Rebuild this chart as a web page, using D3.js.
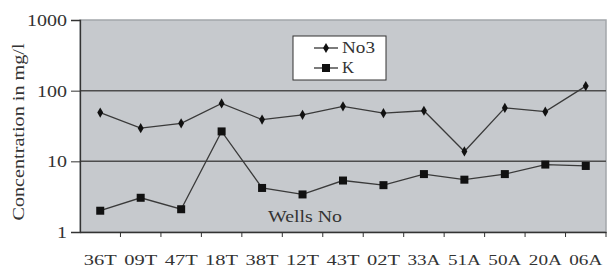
<html>
<head></head>
<body style="margin:0;background:white">
<svg id="svg" width="607" height="268"></svg>
<script src="https://cdn.jsdelivr.net/npm/d3@7"></script>
<script>

var wells = ["36T","09T","47T","18T","38T","12T","43T","02T","33A","51A","50A","20A","06A"];
var no3 = [49, 29.5, 34.5, 66, 39, 45.5, 60, 48, 52, 13.8, 57, 50.5, 116];
var kval = [2.0, 3.05, 2.1, 26.5, 4.2, 3.4, 5.35, 4.6, 6.6, 5.5, 6.6, 9.0, 8.6];
var yTicks = [1, 10, 100, 1000];

var L = 80, R = 606, T = 20, B = 232;
var svg = d3.select("#svg");
var font = "Liberation Serif";

var x = d3.scaleBand().domain(wells).range([L, R]);
var y = d3.scaleLog().domain([1, 1000]).range([B, T]);

// plot background
svg.append("rect").attr("x", L).attr("y", T).attr("width", R - L).attr("height", B - T)
  .style("fill", "#c6c9cd").style("stroke", "#a3a6aa").style("stroke-width", 1.5);

// gridlines
svg.selectAll("line.grid").data([10, 100]).join("line").classed("grid", true)
  .attr("x1", L).attr("x2", R).attr("y1", d => y(d)).attr("y2", d => y(d))
  .style("stroke", "#4d4d4d").style("stroke-width", 1.5);

// axes
var ya = svg.append("g").attr("transform", "translate(" + L + ",0)")
  .call(d3.axisLeft(y).tickValues(yTicks).tickFormat(d3.format("d")).tickSize(9).tickPadding(4));
ya.attr("font-family", font);
ya.select(".domain").style("stroke", "#333").style("stroke-width", 1.3);
ya.selectAll("line").style("stroke", "#333");
ya.selectAll("text").style("font-family", font).style("font-size", "17px").style("fill", "#333")
  .attr("textLength", d => String(d).length * 10).attr("lengthAdjust", "spacingAndGlyphs");

var xa = svg.append("g").attr("transform", "translate(0," + B + ")")
  .call(d3.axisBottom(x).tickSize(0).tickPadding(30));
xa.attr("font-family", font);
xa.select(".domain").style("stroke", "#333").style("stroke-width", 1.3);
xa.selectAll("text").style("font-family", font).style("font-size", "15px").style("fill", "#333")
  .attr("textLength", 33).attr("lengthAdjust", "spacingAndGlyphs").attr("dy", "0.2em");
// tick marks at band edges
svg.selectAll("line.xt").data(wells.slice(1).concat(["end"])).join("line").classed("xt", true)
  .attr("x1", d => d == "end" ? R : x(d)).attr("x2", d => d == "end" ? R : x(d))
  .attr("y1", B).attr("y2", B + 5).style("stroke", "#333");

// y title
svg.append("text").attr("transform", "translate(24," + ((T + B) / 2 + 6) + ") rotate(-90)")
  .attr("text-anchor", "middle").text("Concentration in mg/l")
  .attr("textLength", 177).attr("lengthAdjust", "spacingAndGlyphs")
  .style("font-family", font).style("font-size", "17px").style("fill", "#333");

// Wells No label
svg.append("text").attr("x", 305).attr("y", 222).attr("text-anchor", "middle").text("Wells No")
  .attr("textLength", 74).attr("lengthAdjust", "spacingAndGlyphs")
  .style("font-family", font).style("font-size", "16px").style("fill", "#333");

var cx = d => x(d) + x.bandwidth() / 2;
var line = d3.line().x(d => cx(d.w)).y(d => y(d.v));
var s1 = wells.map((w, i) => ({w: w, v: no3[i]}));
var s2 = wells.map((w, i) => ({w: w, v: kval[i]}));

[s1, s2].forEach(s => {
  svg.append("path").datum(s).attr("d", line)
    .style("fill", "none").style("stroke", "#3a3a3a").style("stroke-width", 1.3);
});

svg.selectAll("path.dia").data(s1).join("path").classed("dia", true)
  .attr("d", d3.symbol(d3.symbolDiamond, 30))
  .attr("transform", d => "translate(" + cx(d.w) + "," + y(d.v) + ")")
  .style("fill", "#111");
svg.selectAll("rect.sq").data(s2).join("rect").classed("sq", true)
  .attr("x", d => cx(d.w) - 4).attr("y", d => y(d.v) - 4).attr("width", 8).attr("height", 8)
  .style("fill", "#111");

// legend
var lg = svg.append("g");
lg.append("rect").attr("x", 293).attr("y", 36).attr("width", 93).attr("height", 44)
  .style("fill", "white").style("stroke", "#333").style("stroke-width", 1);
[["No3", 48, "d"], ["K", 68, "s"]].forEach(e => {
  lg.append("line").attr("x1", 314).attr("x2", 338).attr("y1", e[1]).attr("y2", e[1])
    .style("stroke", "#333").style("stroke-width", 1.3);
  if (e[2] == "d")
    lg.append("path").attr("d", d3.symbol(d3.symbolDiamond, 30)).attr("transform", "translate(326," + e[1] + ")").style("fill", "#111");
  else
    lg.append("rect").attr("x", 322).attr("y", e[1] - 4).attr("width", 8).attr("height", 8).style("fill", "#111");
  lg.append("text").attr("x", 342).attr("y", e[1] + 5).text(e[0])
    .attr("textLength", e[0] == "No3" ? 33 : 12).attr("lengthAdjust", "spacingAndGlyphs")
    .style("font-family", font).style("font-size", "17px").style("fill", "#333");
});

</script>
</body>
</html>
